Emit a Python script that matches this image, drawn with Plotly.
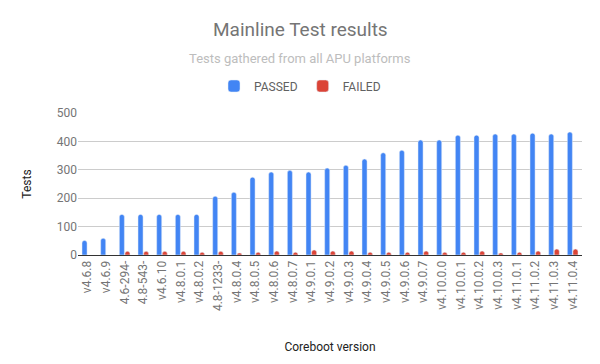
import plotly.graph_objects as go

versions = ["v4.6.8", "v4.6.9", "4.6-294-", "4.8-543-", "v4.6.10", "v4.8.0.1", "v4.8.0.2",
            "4.8-1233-", "v4.8.0.4", "v4.8.0.5", "v4.8.0.6", "v4.8.0.7", "v4.9.0.1", "v4.9.0.2",
            "v4.9.0.3", "v4.9.0.4", "v4.9.0.5", "v4.9.0.6", "v4.9.0.7", "v4.10.0.0", "v4.10.0.1",
            "v4.10.0.2", "v4.10.0.3", "v4.11.0.1", "v4.11.0.2", "v4.11.0.3", "v4.11.0.4"]
passed = [51, 59, 143, 143, 143, 143, 143, 207, 221, 274, 292, 298, 292, 306,
          316, 338, 360, 369, 405, 405, 422, 422, 426, 426, 429, 426, 433]
failed = [None, None, 13, 13, 13, 13, 10, 13, 7, 10, 14, 10, 18, 14,
          14, 10, 10, 10, 14, 10, 10, 14, 7, 10, 14, 21, 21]
y_ticks = [0, 100, 200, 300, 400, 500]

FONT = "Roboto, Arial, sans-serif"
PLOT_TOP, PLOT_BOTTOM, PLOT_LEFT, PLOT_W = 113, 255, 78, 504


def py(p):
    return (PLOT_BOTTOM - p) / (PLOT_BOTTOM - PLOT_TOP)


fig = go.Figure()
fig.add_trace(go.Bar(name="PASSED", x=versions, y=passed, marker_color="#4285f4"))
fig.add_trace(go.Bar(name="FAILED", x=versions, y=failed, marker_color="#db4437"))

fig.update_layout(
    width=600, height=364,
    margin=dict(l=78, r=18, t=113, b=109, autoexpand=False),
    paper_bgcolor="white", plot_bgcolor="white",
    font=dict(family=FONT, color="#757575", size=12),
    barmode="group", bargap=0.4, bargroupgap=0.1,
    barcornerradius=3,
    showlegend=True,
    legend=dict(orientation="h", xref="container", yref="container",
                x=0.5, xanchor="center", y=1 - 86 / 364, yanchor="middle",
                font=dict(size=12, color="#616161"), itemwidth=30,
                traceorder="normal"),
    annotations=[
        dict(text="Mainline Test results", xref="paper", yref="paper",
             x=(300 - PLOT_LEFT) / PLOT_W, y=py(30), xanchor="center", yanchor="middle",
             showarrow=False, font=dict(size=19, color="#757575", family=FONT)),
        dict(text="Tests gathered from all APU platforms", xref="paper", yref="paper",
             x=(300 - PLOT_LEFT) / PLOT_W, y=py(58), xanchor="center", yanchor="middle",
             showarrow=False, font=dict(size=13, color="#bdbdbd", family=FONT)),
    ],
)
fig.update_xaxes(tickangle=-90, showgrid=False, showline=True, linecolor="#333333",
                 linewidth=1, ticks="", tickfont=dict(size=12, color="#757575"),
                 title=dict(text="Coreboot version", font=dict(size=12, color="#222222"),
                            standoff=32))
fig.update_yaxes(range=[0, 500], tickvals=y_ticks, showgrid=True, gridcolor="#cccccc",
                 zeroline=False, ticks="", tickfont=dict(size=12, color="#757575"),
                 title=dict(text="Tests", font=dict(size=12, color="#222222"), standoff=22))

fig.write_html("out.html")
